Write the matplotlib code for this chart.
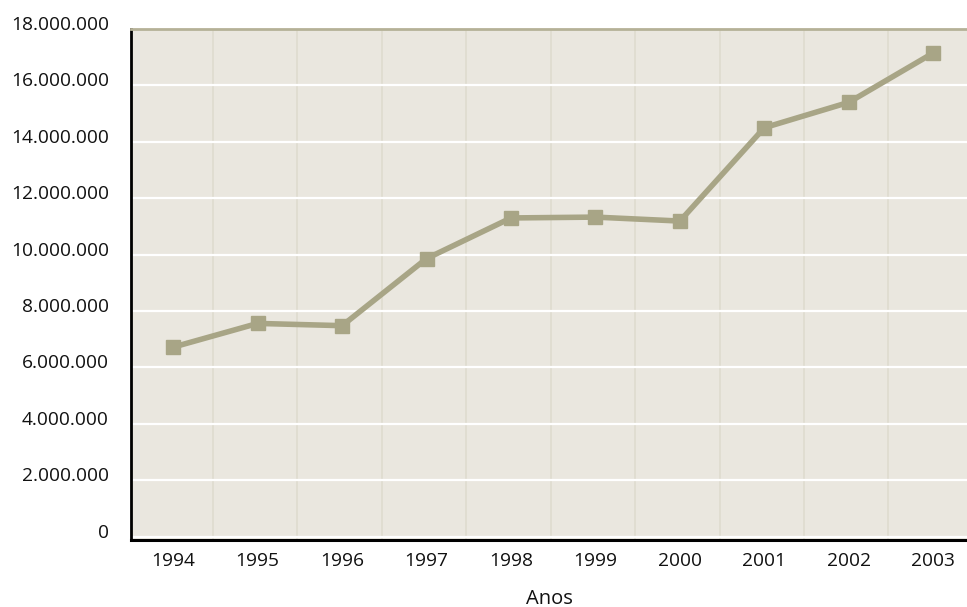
import matplotlib
matplotlib.use("Agg")
import matplotlib.pyplot as plt
import matplotlib.transforms as mtransforms

# values
anos = ["1994", "1995", "1996", "1997", "1998", "1999", "2000", "2001", "2002", "2003"]
valores = [6.72e6, 7.56e6, 7.48e6, 9.86e6, 11.30e6, 11.33e6, 11.19e6, 14.50e6, 15.40e6, 17.15e6]
y_ticks = [0, 2e6, 4e6, 6e6, 8e6, 10e6, 12e6, 14e6, 16e6, 18e6]

plt.rcParams['font.family'] = ['Open Sans', 'DejaVu Sans']

fig = plt.figure(figsize=(9.67, 6.07), dpi=100)
ax = fig.add_axes([0.1355, 0.1104, 0.8645, 0.8418])
ax.set_facecolor('#EAE7DF')

x = list(range(len(anos)))
ax.plot(x, valores, color='#A8A586', linewidth=4, marker='s', markersize=10,
        markerfacecolor='#A8A586', markeredgecolor='#A8A586', zorder=3)

ax.set_xlim(-0.5, 9.4)
ax.set_ylim(-0.12e6, 17.88e6)

# horizontal white grid, light vertical separators between years
ax.set_yticks(y_ticks)
ax.set_yticklabels([f"{int(v):,}".replace(",", ".") for v in y_ticks])
ax.yaxis.grid(True, color='white', linewidth=1.6)
ax.set_xticks(x)
ax.set_xticklabels(anos)
ax.set_xticks([i + 0.47 for i in range(9)], minor=True)
ax.xaxis.grid(True, which='minor', color='#DFDCCF', linewidth=1.2)
ax.set_axisbelow(True)

ax.tick_params(axis='both', which='both', length=0, labelsize=13.8, colors='#111111')
ax.tick_params(axis='y', pad=16)
ax.tick_params(axis='x', pad=9)

# y labels sit a little above their gridlines
off = mtransforms.ScaledTranslation(0, 0.06, fig.dpi_scale_trans)
for lbl in ax.get_yticklabels():
    lbl.set_transform(lbl.get_transform() + off)

ax.spines['left'].set_color('black')
ax.spines['left'].set_linewidth(2)
ax.spines['bottom'].set_color('black')
ax.spines['bottom'].set_linewidth(2.2)
ax.spines['top'].set_color('#B5B197')
ax.spines['top'].set_linewidth(2)
ax.spines['right'].set_visible(False)

ax.set_xlabel("Anos", fontsize=14.5, labelpad=13, color='#111111')

fig.savefig("out.png", dpi=100)
